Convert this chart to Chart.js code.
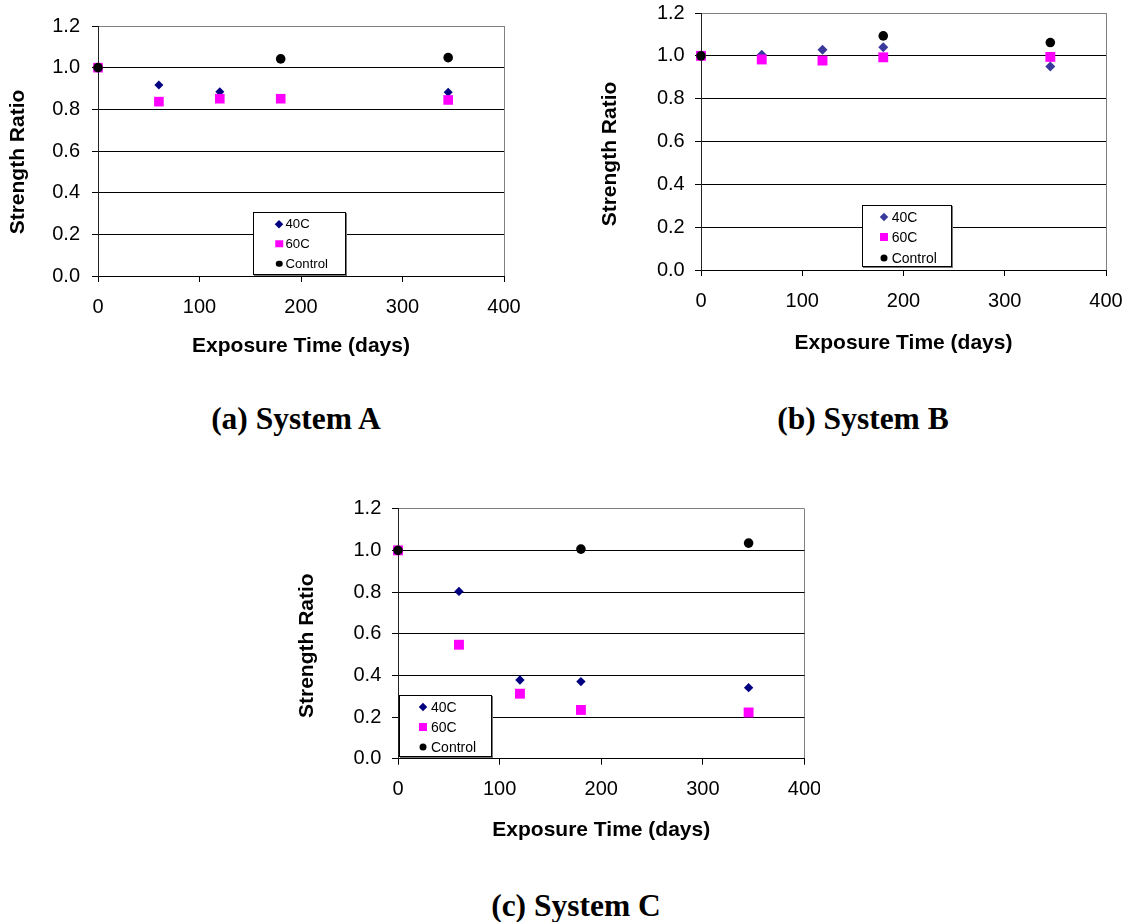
<!DOCTYPE html>
<html>
<head>
<meta charset="utf-8">
<script src="https://cdn.jsdelivr.net/npm/chart.js@4/dist/chart.umd.min.js"></script>
<style>
html, body { margin: 0; padding: 0; background: #fff; overflow: hidden; }
body { width: 1128px; height: 922px; position: relative; font-family: "Liberation Sans", Arial, sans-serif; }
.cc-chart { position: absolute; }
.cc-chart canvas { display: block; }
.cc-legend { position: absolute; background: #fff; border: 1px solid #000; box-shadow: 1px 1px 0 #777; box-sizing: border-box; color: #000; }
.cc-legend__marker { position: absolute; transform: translate(-50%, -50%); }
.cc-legend__text { position: absolute; transform: translateY(-50%); white-space: nowrap; line-height: 1; }
.cc-caption { position: absolute; font-family: "Liberation Serif", "Times New Roman", serif; font-weight: bold; font-size: 31.5px; line-height: 1; transform: translate(-50%, -50%); white-space: nowrap; }
</style>
</head>
<body>
<script>
// data
const days = [0, 60, 120, 180, 345];
const seriesNames = ['40C', '60C', 'Control'];
const xTicks = [0, 100, 200, 300, 400];
const yTicks = [0, 0.2, 0.4, 0.6, 0.8, 1.0, 1.2];

const systemA40 = [1.0, 0.917, 0.885, null, 0.882];
const systemA60 = [1.0, 0.837, 0.851, 0.851, 0.845];
const systemAControl = [1.0, null, null, 1.042, 1.048];

const systemB40 = [1.0, 1.005, 1.028, 1.04, 0.95];
const systemB60 = [1.0, 0.983, 0.978, 0.993, 0.995];
const systemBControl = [1.0, null, null, 1.093, 1.062];

const systemC40 = [1.0, 0.803, 0.378, 0.370, 0.341];
const systemC60 = [1.0, 0.547, 0.312, 0.234, 0.222];
const systemCControl = [1.0, null, null, 1.006, 1.035];

const captions = ['(a) System A', '(b) System B', '(c) System C'];

const FONT = '"Liberation Sans", Arial, sans-serif';

function toPoints(values) {
    var pts = [];
    days.forEach(function (d, i) {
        if (values[i] !== null) pts.push({ x: d, y: values[i] });
    });
    return pts;
}

// Excel places the value-axis title a bit below the plot centre
var yTitlePlugin = {
    id: 'yTitle',
    afterDraw: function (chart, args, opts) {
        var ctx = chart.ctx;
        var area = chart.chartArea;
        ctx.save();
        ctx.translate(opts.x, (area.top + area.bottom) / 2 + opts.shift);
        ctx.rotate(-Math.PI / 2);
        ctx.font = 'bold 21px ' + FONT;
        ctx.fillStyle = '#000';
        ctx.textAlign = 'center';
        ctx.textBaseline = 'middle';
        ctx.fillText(opts.text, 0, 0);
        ctx.restore();
    }
};

function buildLegend(chart, wrap, lg) {
    var box = document.createElement('div');
    box.classList.add('cc-legend');
    box.style.left = lg.left + 'px';
    box.style.top = lg.top + 'px';
    box.style.width = lg.width + 'px';
    box.style.height = lg.height + 'px';
    chart.data.datasets.forEach(function (ds, i) {
        var rowY = lg.rows[i] - lg.top;
        var marker = document.createElement('span');
        marker.classList.add('cc-legend__marker');
        var s = lg.markers[i];
        marker.style.width = s + 'px';
        marker.style.height = s + 'px';
        marker.style.background = ds.backgroundColor;
        marker.style.left = (lg.markerX - lg.left) + 'px';
        marker.style.top = rowY + 'px';
        if (ds.pointStyle === 'rectRot') marker.style.transform = 'translate(-50%, -50%) rotate(45deg)';
        if (ds.pointStyle === 'circle') marker.style.borderRadius = '50%';
        box.appendChild(marker);
        var text = document.createElement('span');
        text.classList.add('cc-legend__text');
        text.style.left = (lg.textX - lg.left) + 'px';
        text.style.top = rowY + 'px';
        text.style.fontSize = lg.fontSize + 'px';
        text.innerText = ds.label;
        box.appendChild(text);
    });
    document.body.appendChild(box);
}

function makeChart(cfg) {
    var wrap = document.createElement('div');
    wrap.classList.add('cc-chart');
    wrap.style.left = cfg.left + 'px';
    wrap.style.top = cfg.top + 'px';
    var canvas = document.createElement('canvas');
    canvas.width = cfg.width;
    canvas.height = cfg.height;
    wrap.appendChild(canvas);
    document.body.appendChild(wrap);

    var styles = ['rectRot', 'rect', 'circle'];
    var datasets = cfg.values.map(function (vals, i) {
        return {
            label: seriesNames[i],
            data: toPoints(vals),
            pointStyle: styles[i],
            pointRadius: cfg.radii[i],
            pointHoverRadius: cfg.radii[i],
            backgroundColor: cfg.colors[i],
            borderColor: cfg.colors[i],
            pointBorderWidth: 0,
            showLine: false,
            clip: false,
            order: 3 - i
        };
    });

    var chart = new Chart(canvas, {
        type: 'scatter',
        data: { datasets: datasets },
        plugins: [yTitlePlugin],
        options: {
            responsive: false,
            animation: false,
            events: [],
            layout: { autoPadding: false, padding: { left: 0, top: cfg.padTop, right: cfg.padRight, bottom: 0 } },
            plugins: {
                legend: { display: false },
                tooltip: { enabled: false },
                yTitle: { text: 'Strength Ratio', x: cfg.yTitleX, shift: cfg.yTitleShift }
            },
            scales: {
                x: {
                    type: 'linear', min: 0, max: 400,
                    afterBuildTicks: function (s) { s.ticks = xTicks.map(function (v) { return { value: v }; }); },
                    afterFit: function (s) { s.height = cfg.xHeight; s.paddingLeft = 0; s.paddingRight = 0; },
                    grid: {
                        color: function (c) { return c.tick && c.tick.value === 400 ? '#808080' : 'rgba(0,0,0,0)'; },
                        tickColor: '#000', tickLength: 6, lineWidth: 1
                    },
                    border: { color: '#000', width: 1 },
                    ticks: { color: '#000', padding: 13, maxRotation: 0, autoSkip: false, font: { family: FONT, size: 20 } },
                    title: {
                        display: true, text: 'Exposure Time (days)', color: '#000',
                        font: { family: FONT, size: 21, weight: 'bold' },
                        padding: { top: 0, bottom: cfg.xTitlePad }
                    }
                },
                y: {
                    type: 'linear', min: 0, max: 1.2,
                    afterBuildTicks: function (s) { s.ticks = yTicks.map(function (v) { return { value: v }; }); },
                    afterFit: function (s) { s.width = cfg.yWidth; s.paddingTop = 0; s.paddingBottom = 0; },
                    grid: {
                        color: function (c) { return c.tick && c.tick.value > 1.1 ? '#808080' : '#000'; },
                        tickColor: '#000', tickLength: 6, lineWidth: 1
                    },
                    border: { color: '#222', width: 1 },
                    ticks: {
                        color: '#000', padding: cfg.yTickPad, font: { family: FONT, size: 20 },
                        callback: function (v) { return Number(v).toFixed(1); }
                    }
                }
            }
        }
    });
    buildLegend(chart, wrap, cfg.legend);
    return chart;
}

function addCaption(text, x, y) {
    var el = document.createElement('div');
    el.classList.add('cc-caption');
    el.style.left = x + 'px';
    el.style.top = y + 'px';
    el.innerText = text;
    document.body.appendChild(el);
}

makeChart({
    left: 0, top: 0, width: 540, height: 370,
    padTop: 26, padRight: 36, yWidth: 98, xHeight: 94,
    xTitlePad: 11.6, yTickPad: 12, yTitleX: 18, yTitleShift: 11,
    values: [systemA40, systemA60, systemAControl],
    colors: ['#000080', '#FF00FF', '#000000'],
    radii: [4.5, 6.8, 4.8],
    legend: { left: 253, top: 212, width: 93, height: 63, markerX: 278, textX: 284.5, rows: [223.3, 242.7, 262.7], markers: [5.5, 7.5, 6.5], fontSize: 13.2 }
});

makeChart({
    left: 580, top: 0, width: 548, height: 370,
    padTop: 13, padRight: 22, yWidth: 121, xHeight: 100,
    xTitlePad: 14, yTickPad: 10.3, yTitleX: 30.7, yTitleShift: 12.5,
    values: [systemB40, systemB60, systemBControl],
    colors: ['#3A3A9C', '#FF00FF', '#000000'],
    radii: [5, 7, 4.8],
    legend: { left: 862, top: 205, width: 90, height: 62, markerX: 882.7, textX: 890.7, rows: [215.7, 236.3, 256.7], markers: [6, 8, 7], fontSize: 14 }
});

makeChart({
    left: 290, top: 480, width: 530, height: 370,
    padTop: 28.7, padRight: 15.5, yWidth: 108, xHeight: 91.3,
    xTitlePad: 6.7, yTickPad: 10.7, yTitleX: 17.2, yTitleShift: 12,
    values: [systemC40, systemC60, systemCControl],
    colors: ['#000080', '#FF00FF', '#000000'],
    radii: [4.7, 7, 4.8],
    legend: { left: 399, top: 695, width: 93, height: 62, markerX: 421.7, textX: 430, rows: [706, 726, 746], markers: [6, 8, 7], fontSize: 14 }
});

addCaption(captions[0], 296, 419);
addCaption(captions[1], 863, 419);
addCaption(captions[2], 576, 906);
</script>
</body>
</html>
